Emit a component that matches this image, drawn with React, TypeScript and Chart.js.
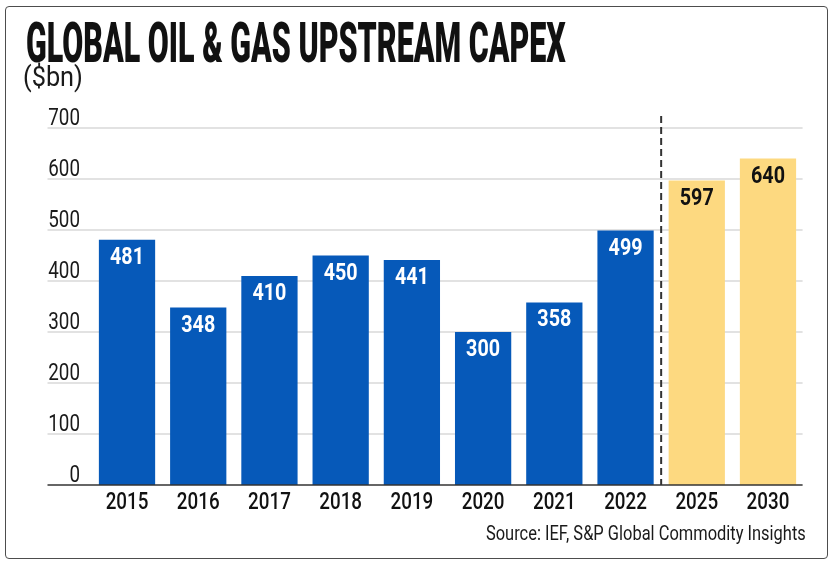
import React, { useEffect, useLayoutEffect, useRef, useState } from "react";
import { Chart, registerables } from "chart.js";

Chart.register(...registerables);

// ---- data ----
const categories = ["2015", "2016", "2017", "2018", "2019", "2020", "2021", "2022", "2025", "2030"];
const capex = [481, 348, 410, 450, 441, 300, 358, 499, 597, 640];
const forecastYears = ["2025", "2030"];
const yTicks = [0, 100, 200, 300, 400, 500, 600, 700];

const TITLE = "GLOBAL OIL & GAS UPSTREAM CAPEX";
const SUBTITLE = "($bn)";
const SOURCE = "Source: IEF, S&P Global Commodity Insights";

// ---- style ----
const BLUE = "#0659b9";
const YELLOW = "#fdd980";
const FONT = "Roboto";

function isForecast(i: number) {
  return forecastYears.includes(categories[i]);
}

function drawScaled(
  ctx: CanvasRenderingContext2D,
  text: string,
  x: number,
  y: number,
  align: CanvasTextAlign,
  sx: number,
  font: string,
  color: string
) {
  ctx.save();
  ctx.translate(x, y);
  ctx.scale(sx, 1);
  ctx.font = font;
  ctx.fillStyle = color;
  ctx.textAlign = align;
  ctx.textBaseline = "alphabetic";
  ctx.fillText(text, 0, 0);
  ctx.restore();
}

const decorPlugin = {
  id: "decor",
  beforeDatasetsDraw(chart: any) {
    const { ctx, chartArea, scales } = chart;
    const y = scales.y;
    ctx.save();
    ctx.strokeStyle = "#d9d9d9";
    ctx.lineWidth = 1.5;
    yTicks.forEach((v) => {
      if (v === 0) return;
      const py = y.getPixelForValue(v);
      ctx.beginPath();
      ctx.moveTo(47.5, py);
      ctx.lineTo(chartArea.right - 1, py);
      ctx.stroke();
    });
    ctx.restore();
  },
  afterDatasetsDraw(chart: any) {
    const { ctx, chartArea, scales } = chart;
    const x = scales.x;
    const y = scales.y;
    const base = y.getPixelForValue(0);

    // baseline
    ctx.save();
    ctx.strokeStyle = "#333";
    ctx.lineWidth = 1.5;
    ctx.beginPath();
    ctx.moveTo(47.5, base);
    ctx.lineTo(chartArea.right - 1, base);
    ctx.stroke();

    // dashed separator between actuals and forecasts
    const firstF = categories.findIndex((c) => forecastYears.includes(c));
    if (firstF > 0) {
      const px = (x.getPixelForValue(firstF - 1) + x.getPixelForValue(firstF)) / 2;
      ctx.strokeStyle = "#333";
      ctx.lineWidth = 2;
      ctx.setLineDash([7, 4]);
      ctx.beginPath();
      ctx.moveTo(px, y.getPixelForValue(700) - 12);
      ctx.lineTo(px, base);
      ctx.stroke();
      ctx.setLineDash([]);
    }
    ctx.restore();

    // y tick labels
    yTicks.forEach((v) => {
      const py = y.getPixelForValue(v);
      drawScaled(ctx, String(v), 80, py - 3.5, "right", 0.8, `400 23.5px ${FONT}`, "#1a1a1a");
    });

    // x tick labels
    categories.forEach((c, i) => {
      const px = x.getPixelForValue(i);
      drawScaled(ctx, c, px, base + 23.5, "center", 0.8, `500 23.5px ${FONT}`, "#111");
    });

    // bar value labels
    const meta = chart.getDatasetMeta(0);
    meta.data.forEach((el: any, i: number) => {
      drawScaled(
        ctx,
        String(capex[i]),
        el.x,
        el.y + 24,
        "center",
        0.84,
        `700 23.5px ${FONT}`,
        isForecast(i) ? "#111" : "#ffffff"
      );
    });
  },
};

function ScaledText(props: {
  text: string;
  fontSize: number;
  weight: number;
  width: number;
  baseline: number;
  left?: number;
  right?: number;
  color: string;
}) {
  const { text, fontSize, weight, width, baseline, left, right, color } = props;
  const ref = useRef<HTMLSpanElement>(null);
  const [sx, setSx] = useState(1);
  useLayoutEffect(() => {
    if (ref.current && ref.current.offsetWidth > 0) setSx(width / ref.current.offsetWidth);
  }, [text, width, fontSize]);
  const style: React.CSSProperties = {
    position: "absolute",
    top: baseline - 0.8418 * fontSize,
    fontFamily: FONT,
    fontSize,
    fontWeight: weight,
    lineHeight: `${fontSize}px`,
    whiteSpace: "nowrap",
    color,
    transform: `scaleX(${sx})`,
    transformOrigin: right !== undefined ? "right top" : "left top",
    zIndex: 2,
  };
  if (right !== undefined) style.right = right;
  else style.left = left;
  return (
    <span ref={ref} style={style}>
      {text}
    </span>
  );
}

export default function App() {
  const canvasRef = useRef<HTMLCanvasElement>(null);

  useEffect(() => {
    if (!canvasRef.current) return;
    const chart = new Chart(canvasRef.current, {
      type: "bar",
      data: {
        labels: categories,
        datasets: [
          {
            data: capex,
            backgroundColor: categories.map((_, i) => (isForecast(i) ? YELLOW : BLUE)),
            borderWidth: 0,
            barPercentage: 0.79,
            categoryPercentage: 1,
          },
        ],
      },
      options: {
        responsive: false,
        animation: false,
        layout: { padding: { left: 91.4, right: 29.4, top: 128, bottom: 79 } },
        plugins: {
          legend: { display: false },
          title: { display: false },
          tooltip: { enabled: false },
        },
        scales: {
          x: { display: false },
          y: { display: false, min: 0, max: 700, ticks: { stepSize: 100 } },
        },
      },
      plugins: [decorPlugin],
    });
    return () => chart.destroy();
  }, []);

  return (
    <div
      style={{
        position: "absolute",
        left: 0,
        top: 0,
        width: 833,
        height: 564,
        background: "#fff",
        overflow: "hidden",
      }}
    >
      <div
        style={{
          position: "absolute",
          left: 5,
          top: 6,
          width: 821,
          height: 551,
          border: "1.5px solid #4d4d4d",
          borderRadius: 4,
          zIndex: 3,
          pointerEvents: "none",
        }}
      />
      <canvas
        ref={canvasRef}
        width={833}
        height={564}
        style={{ position: "absolute", left: 0, top: 0, width: 833, height: 564, zIndex: 1 }}
      />
      <ScaledText text={TITLE} fontSize={56} weight={900} width={540} baseline={62} left={26} color="#111" />
      <ScaledText text={SUBTITLE} fontSize={27} weight={400} width={60} baseline={87} left={23} color="#1a1a1a" />
      <ScaledText text={SOURCE} fontSize={20} weight={400} width={320} baseline={540} right={27} color="#1a1a1a" />
    </div>
  );
}
